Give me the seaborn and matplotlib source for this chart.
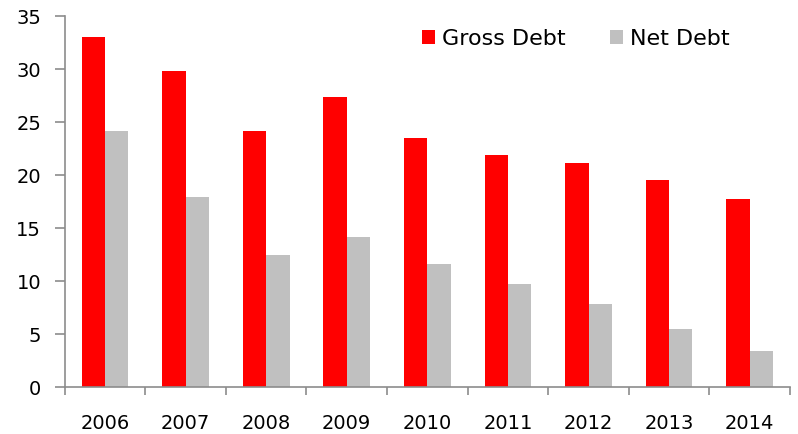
import matplotlib
matplotlib.use("Agg")
import matplotlib.pyplot as plt
import seaborn as sns
import pandas as pd
import numpy as np

years = ["2006", "2007", "2008", "2009", "2010", "2011", "2012", "2013", "2014"]
gross_debt = [33.0, 29.8, 24.2, 27.4, 23.5, 21.9, 21.1, 19.5, 17.7]
net_debt = [24.2, 17.9, 12.5, 14.2, 11.6, 9.7, 7.8, 5.5, 3.4]

df = pd.DataFrame({
    "year": years * 2,
    "value": gross_debt + net_debt,
    "series": ["Gross Debt"] * len(years) + ["Net Debt"] * len(years),
})

sns.set_style("white")
plt.rcParams["font.family"] = ["DejaVu Sans"]
plt.rcParams["text.color"] = "black"
plt.rcParams["xtick.color"] = "black"
plt.rcParams["ytick.color"] = "black"

fig = plt.figure(figsize=(7.98, 4.34), dpi=100)
ax = fig.add_axes([0.081, 0.108, 0.909, 0.855])

sns.barplot(data=df, x="year", y="value", hue="series", ax=ax,
            palette={"Gross Debt": "#ff0000", "Net Debt": "#c0c0c0"},
            width=0.58, gap=0, saturation=1, edgecolor="none", legend=True)

ax.set_ylim(0, 35)
ax.set_yticks(range(0, 36, 5))
ax.set_xlim(-0.5, len(years) - 0.5)
ax.set_xlabel("")
ax.set_ylabel("")

for s in ["top", "right"]:
    ax.spines[s].set_visible(False)
for s in ["left", "bottom"]:
    ax.spines[s].set_color("#8c8c8c")
    ax.spines[s].set_linewidth(1.2)

ax.tick_params(axis="y", which="major", direction="out", length=7, width=1.2,
               color="#8c8c8c", labelsize=14, left=True, pad=10)
ax.tick_params(axis="x", which="major", length=0, labelsize=14, pad=19)
ax.set_xticks(np.arange(-0.5, len(years), 1), minor=True)
ax.tick_params(axis="x", which="minor", direction="out", length=6, width=1.2,
               color="#8c8c8c", bottom=True)

handles, labels = ax.get_legend_handles_labels()
ax.legend(handles, labels, loc="center left", ncol=2, frameon=False,
          fontsize=16, handlelength=0.6, handleheight=0.6,
          handletextpad=0.3, columnspacing=2.0, borderpad=0, borderaxespad=0,
          bbox_to_anchor=(422 / 798, 1 - 39 / 434), bbox_transform=fig.transFigure)

fig.savefig("out.png", dpi=100)
